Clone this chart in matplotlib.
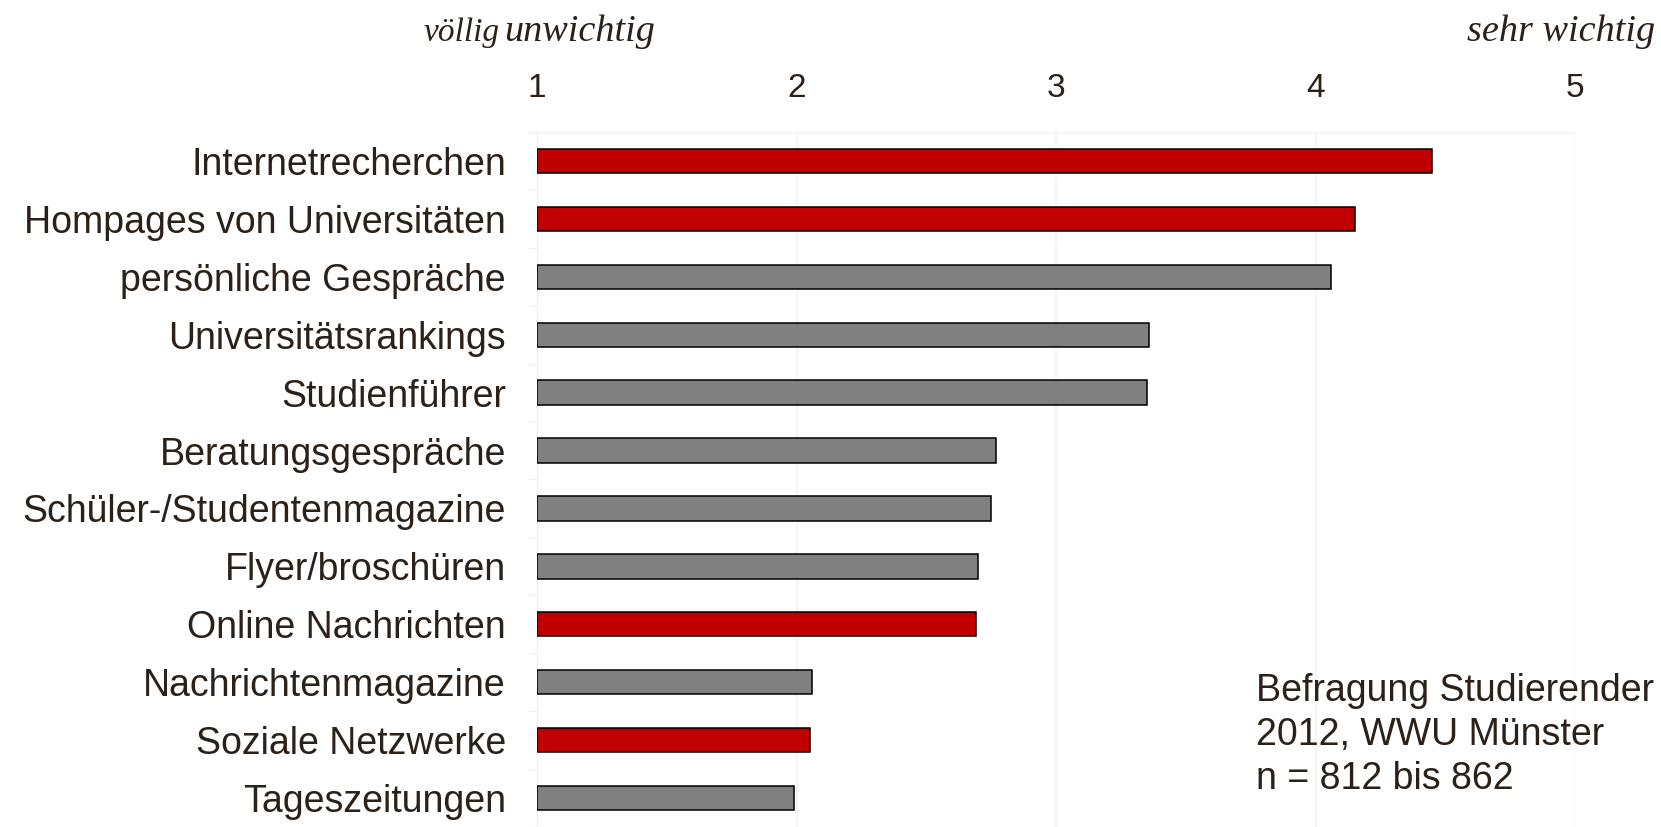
import numpy as np
import matplotlib.pyplot as plt

# Daten (Mittelwerte, Skala 1 = völlig unwichtig ... 5 = sehr wichtig)
kategorien = [
    "Internetrecherchen",
    "Hompages von Universitäten",
    "persönliche Gespräche",
    "Universitätsrankings",
    "Studienführer",
    "Beratungsgespräche",
    "Schüler-/Studentenmagazine",
    "Flyer/broschüren",
    "Online Nachrichten",
    "Nachrichtenmagazine",
    "Soziale Netzwerke",
    "Tageszeitungen",
]
werte = [4.45, 4.15, 4.06, 3.36, 3.35, 2.77, 2.75, 2.70, 2.69, 2.06, 2.05, 1.99]
online = [True, True, False, False, False, False, False, False, True, False, True, False]

rot = "#c00000"
grau = "#808080"
textfarbe = "#2b2118"

fig = plt.figure(figsize=(16.61, 8.27), dpi=100)
ax = fig.add_axes([0.3233, 0.0, 0.625, 0.8404])

y = np.arange(len(kategorien))
farben = [rot if o else grau for o in online]
ax.barh(y, np.array(werte) - 1, left=1, height=0.42, color=farben,
        edgecolor="black", linewidth=1.1, zorder=3)

ax.set_xlim(1, 5)
ax.set_ylim(11.34, -0.48)
ax.set_xticks([1, 2, 3, 4, 5])
ax.set_xticklabels(["1", "2", "3", "4", "5"])
ax.xaxis.tick_top()
ax.tick_params(axis="x", length=0, pad=20, labelsize=24, labelcolor=textfarbe)
ax.set_yticks(y)
ax.set_yticklabels(kategorien)
ax.set_yticks(np.arange(len(kategorien) + 1) - 0.5, minor=True)
ax.tick_params(axis="y", which="major", length=0, pad=22.5, labelsize=27,
               labelcolor=textfarbe)
ax.tick_params(axis="y", which="minor", length=6, color="#f0f0f0", width=1)
ax.grid(axis="x", color="#f2f2f2", linewidth=1.2, zorder=0)

for s in ["right", "bottom"]:
    ax.spines[s].set_visible(False)
ax.spines["top"].set_color("#f2f2f2")
ax.spines["left"].set_color("#f0f0f0")

for lbl in ax.get_xticklabels() + ax.get_yticklabels():
    lbl.set_fontfamily("Liberation Sans")

# Skalenbeschriftung oben
fig.text(0.255, 0.951, "völlig", fontfamily="Liberation Serif", style="italic",
         fontsize=24, color=textfarbe, ha="left", va="baseline")
fig.text(0.3035, 0.951, "unwichtig", fontfamily="Liberation Serif", style="italic",
         fontsize=27.5, color=textfarbe, ha="left", va="baseline")
fig.text(0.9965, 0.951, "sehr wichtig", fontfamily="Liberation Serif", style="italic",
         fontsize=27.5, color=textfarbe, ha="right", va="baseline")

# Quelle
fig.text(0.756, 0.046, "Befragung Studierender\n2012, WWU Münster\nn = 812 bis 862",
         fontfamily="Liberation Sans", fontsize=27, color=textfarbe,
         ha="left", va="baseline", linespacing=1.29)

plt.savefig("out.png", dpi=100)
